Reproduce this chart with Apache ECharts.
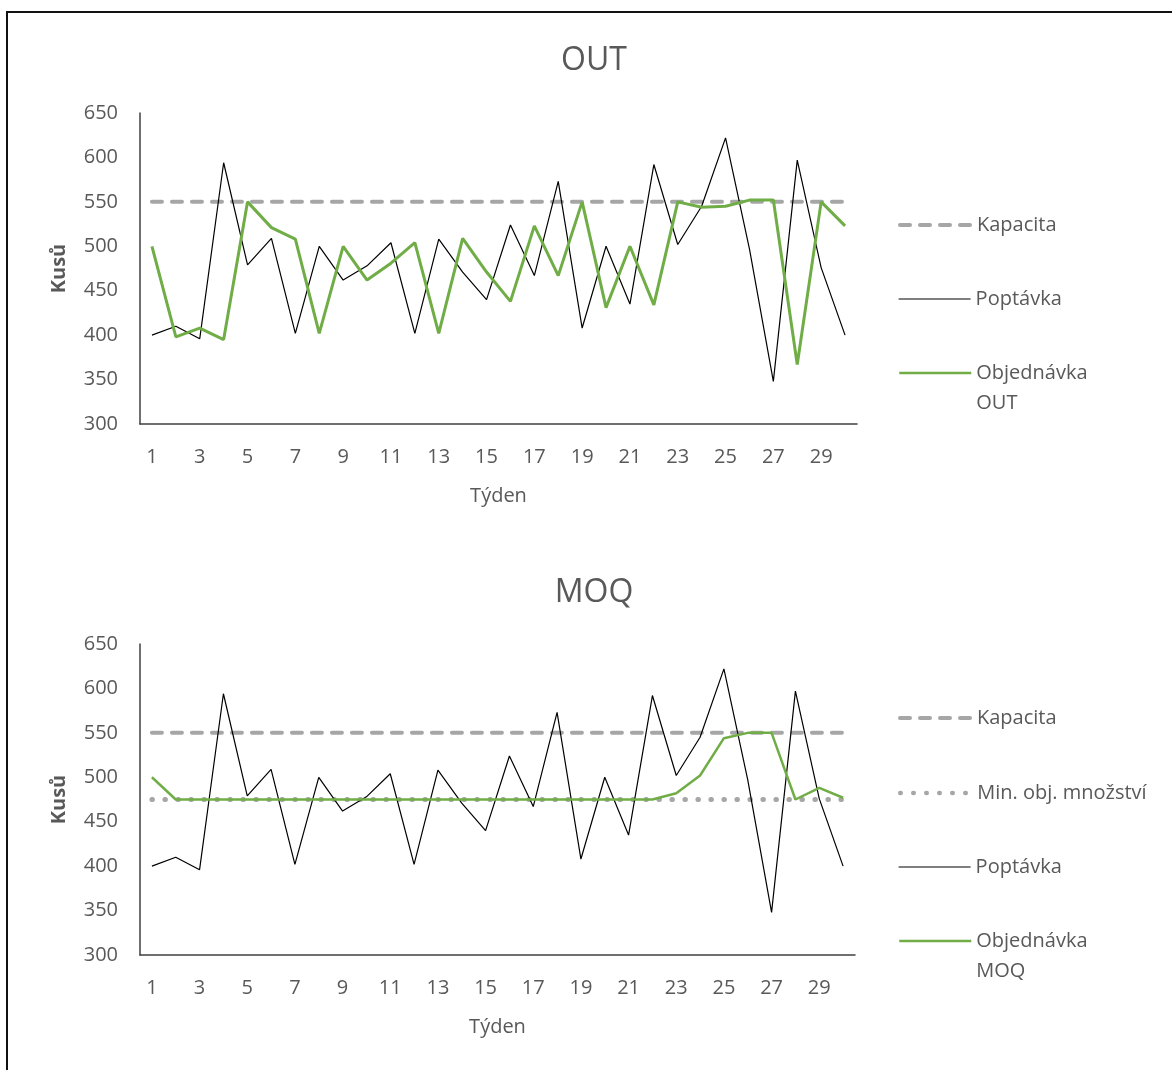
<!DOCTYPE html>
<html>
<head>
<meta charset="utf-8">
<script src="https://cdn.jsdelivr.net/npm/echarts@6/dist/echarts.min.js"></script>
<style>
  html, body { margin: 0; padding: 0; background: #fff; }
  #chart { width: 1172px; height: 1070px; }
</style>
</head>
<body>
<div id="chart"></div>
<script>
// Weeks 1..30
const weeks = ['1','2','3','4','5','6','7','8','9','10','11','12','13','14','15',
  '16','17','18','19','20','21','22','23','24','25','26','27','28','29','30'];

// Weekly demand (pieces)
const demand = [400, 410, 396, 594, 479, 509, 402, 500, 462, 478, 504, 402, 508, 471, 440,
  524, 467, 573, 408, 500, 435, 592, 502, 545, 622, 497, 348, 597, 476, 400];

// Orders under the order-up-to policy
const orderOut = [500, 398, 408, 395, 550, 521, 508, 402, 500, 462, 481, 504, 402, 509, 471,
  438, 523, 467, 550, 431, 500, 434, 550, 544, 545, 552, 552, 367, 550, 523];

// Orders under the minimum order quantity policy
const orderMoq = [500, 475, 475, 475, 475, 475, 475, 475, 475, 475, 475, 475, 475, 475, 475,
  475, 475, 475, 475, 475, 475, 475, 482, 502, 544, 550, 550, 475, 488, 477];

// Capacity and minimum order quantity, per week
const capacity = [550, 550, 550, 550, 550, 550, 550, 550, 550, 550, 550, 550, 550, 550, 550,
  550, 550, 550, 550, 550, 550, 550, 550, 550, 550, 550, 550, 550, 550, 550];
const minOrder = [475, 475, 475, 475, 475, 475, 475, 475, 475, 475, 475, 475, 475, 475, 475,
  475, 475, 475, 475, 475, 475, 475, 475, 475, 475, 475, 475, 475, 475, 475];

const FONT = 'Open Sans';
const TEXT = '#595959';
const GREEN = '#70AD47';
const GREY = '#A6A6A6';

const chart = echarts.init(document.getElementById('chart'), null, { renderer: 'canvas' });

function xAxis(gridIndex) {
  return {
    type: 'category', gridIndex, data: weeks, boundaryGap: true,
    name: 'Týden', nameLocation: 'middle', nameGap: 62,
    nameTextStyle: { fontFamily: FONT, fontSize: 20, color: TEXT },
    axisLine: { lineStyle: { color: '#404040', width: 1.5 } },
    axisTick: { show: false },
    axisLabel: { interval: 1, margin: 23, fontFamily: FONT, fontSize: 20, color: TEXT },
    splitLine: { show: false }
  };
}
function yAxis(gridIndex) {
  return {
    type: 'value', gridIndex, min: 300, max: 650, interval: 50,
    name: 'Kusů', nameLocation: 'middle', nameGap: 71, nameRotate: 90,
    nameTextStyle: { fontFamily: FONT, fontSize: 20, color: TEXT, fontWeight: 'bold' },
    axisLine: { show: true, lineStyle: { color: '#404040', width: 1.5 } },
    axisTick: { show: false },
    axisLabel: { margin: 22, fontFamily: FONT, fontSize: 20, color: TEXT },
    splitLine: { show: false }
  };
}

const capStyle = { color: GREY, width: 4, type: [10, 10], cap: 'round' };
const minStyle = { color: GREY, width: 5, type: [0.5, 12.5], cap: 'round' };
const demStyle = { color: '#000', width: 1.2 };
const outStyle = { color: GREEN, width: 3 };
const moqStyle = { color: GREEN, width: 2.5 };

function lineSeries(name, data, idx, lineStyle) {
  return {
    type: 'line', name, data, xAxisIndex: idx, yAxisIndex: idx,
    color: lineStyle.color,
    symbol: 'none', showSymbol: false, silent: true, animation: false,
    lineStyle
  };
}

// One legend block per entry so each row sits at its own height.
// Two-line labels get an empty leading line so the first line sits beside the key.
function legendItem(name, label, centerY, lineStyle, multiline) {
  return {
    left: 898, top: multiline ? centerY - 45 : centerY - 15,
    padding: 0, orient: 'vertical', itemWidth: 72, itemHeight: 14, itemGap: 0,
    selectedMode: false,
    data: [name],
    formatter: () => (multiline ? '\n' + label : label),
    itemStyle: { opacity: 0 },
    lineStyle: Object.assign({}, lineStyle, { width: Math.min(lineStyle.width, 4.5) }),
    textStyle: { fontFamily: FONT, fontSize: 20, color: TEXT, lineHeight: 30 }
  };
}

chart.setOption({
  animation: false,
  backgroundColor: '#fff',
  title: [
    { text: 'OUT', left: 594, top: 45, textAlign: 'center', padding: 0,
      textStyle: { fontFamily: FONT, fontSize: 32, fontWeight: 'normal', color: TEXT } },
    { text: 'MOQ', left: 594, top: 577, textAlign: 'center', padding: 0,
      textStyle: { fontFamily: FONT, fontSize: 32, fontWeight: 'normal', color: TEXT } }
  ],
  grid: [
    { left: 140, top: 113, width: 717, height: 311 },
    { left: 140, top: 644, width: 715, height: 311 }
  ],
  xAxis: [xAxis(0), xAxis(1)],
  yAxis: [yAxis(0), yAxis(1)],
  legend: [
    legendItem('Kapacita', 'Kapacita', 225, capStyle, false),
    legendItem('Poptávka', 'Poptávka', 299, demStyle, false),
    legendItem('Objednávka OUT', 'Objednávka\nOUT', 373, { color: GREEN, width: 2.5 }, true),
    legendItem('Kapacita ', 'Kapacita', 718, capStyle, false),
    legendItem('Min. obj. množství', 'Min. obj. množství', 793, minStyle, false),
    legendItem('Poptávka ', 'Poptávka', 867, demStyle, false),
    legendItem('Objednávka MOQ', 'Objednávka\nMOQ', 941, { color: GREEN, width: 2.5 }, true)
  ],
  series: [
    lineSeries('Kapacita', capacity, 0, capStyle),
    lineSeries('Poptávka', demand, 0, demStyle),
    lineSeries('Objednávka OUT', orderOut, 0, outStyle),
    lineSeries('Kapacita ', capacity, 1, capStyle),
    lineSeries('Min. obj. množství', minOrder, 1, minStyle),
    lineSeries('Poptávka ', demand, 1, demStyle),
    lineSeries('Objednávka MOQ', orderMoq, 1, moqStyle)
  ],
  graphic: [
    { type: 'polyline', silent: true,
      shape: { points: [[7, 1070], [7, 12], [1172, 12]] },
      style: { stroke: '#111', lineWidth: 2, fill: null } }
  ]
});
</script>
</body>
</html>
